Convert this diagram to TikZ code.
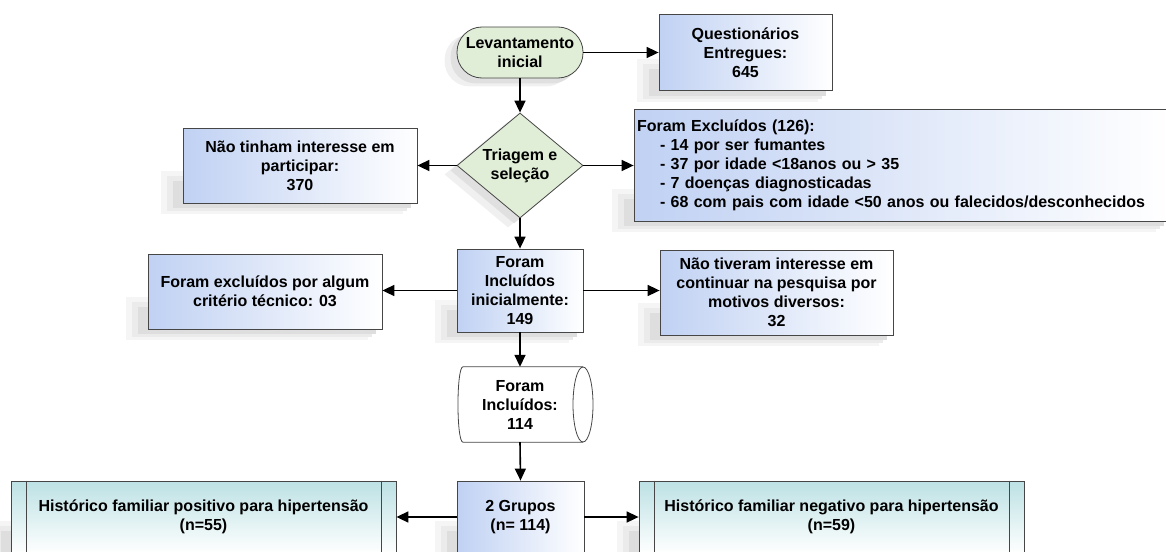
\documentclass[tikz,border=0pt]{standalone}
\usepackage{fontspec}
\setmainfont{Liberation Sans}
\usetikzlibrary{shapes.geometric,arrows.meta,backgrounds}
\definecolor{bluefill}{RGB}{192,209,243}
\definecolor{tealfill}{RGB}{188,225,228}
\definecolor{greenfill}{RGB}{224,238,215}
\definecolor{bordergray}{RGB}{70,70,70}
\newcommand{\boxshadow}[1]{%
 \fill[black!4] ([shift={(-22pt,-11pt)}]#1.south west) rectangle ([shift={(-14pt,32pt)}]#1.south east);
 \fill[black!8] ([shift={(-16pt,-8pt)}]#1.south west) rectangle ([shift={(-10pt,27pt)}]#1.south east);
 \fill[black!13] ([shift={(-10pt,-5pt)}]#1.south west) rectangle ([shift={(-6pt,22pt)}]#1.south east);}
\begin{document}
\begin{tikzpicture}[x=1pt,y=-1pt,
  txt/.style={font=\bfseries\fontsize{16}{19}\selectfont, align=center, text=black},
  bluebox/.style={txt, draw=bordergray, line width=0.8pt, left color=bluefill, right color=white, inner sep=2pt},
  tealbox/.style={txt, draw=bordergray, line width=0.8pt, top color=tealfill, bottom color=white, inner sep=2pt},
  greenshape/.style={txt, draw=bordergray, line width=0.8pt, fill=greenfill},
  arr/.style={-{Triangle[length=12pt,width=11pt]}, line width=1.6pt}
]
\useasboundingbox (0,0) rectangle (1166,551);

\node[greenshape, rounded corners=25pt, minimum width=126pt, minimum height=51pt, inner sep=0pt] (lev) at (520,52.5) {Levantamento\\inicial};
\node[bluebox, minimum width=173pt, minimum height=76pt] (quest) at (745.5,52.5) {Questionários\\Entregues:\\645};
\node[greenshape, diamond, aspect=1.2, inner sep=0pt, minimum width=126pt, minimum height=105pt] (tri) at (520,165.5) {Triagem e\\seleção};
\node[bluebox, minimum width=234pt, minimum height=75pt] (nao1) at (300,165.5) {Não tinham interesse em\\participar:\\370};
\node[bluebox, align=left, text width=530pt, inner xsep=3pt, minimum height=112pt] (excl) at (902,165) {Foram Excluídos (126):\\
\hspace*{23pt}- 14 por ser fumantes\\
\hspace*{23pt}- 37 por idade <18anos ou > 35\\
\hspace*{23pt}- 7 doenças diagnosticadas\\
\hspace*{23pt}- 68 com pais com idade <50 anos ou falecidos/desconhecidos};
\node[bluebox, minimum width=126pt, minimum height=83pt] (inc1) at (520,290.5) {Foram\\Incluídos\\inicialmente:\\149};
\node[bluebox, minimum width=234pt, minimum height=75pt] (crit) at (265,291.5) {Foram excluídos por algum\\critério técnico: 03};
\node[bluebox, minimum width=233pt, minimum height=85pt] (nao2) at (776.5,292.5) {Não tiveram interesse em\\continuar na pesquisa por\\motivos diversos:\\32};

\node[txt, minimum width=110pt, minimum height=75pt, inner sep=0pt] (cyl) at (520,404.5) {Foram\\Incluídos:\\114};
\draw[bordergray, line width=0.8pt] ([xshift=-57pt]cyl.north) -- ([xshift=63pt]cyl.north)
  ([xshift=63pt]cyl.south) -- ([xshift=-57pt]cyl.south)
  .. controls +(-6.7pt,0) and +(-6.7pt,0) .. ([xshift=-57pt]cyl.north);
\draw[bordergray, line width=0.8pt] ([xshift=63pt]cyl.center) ellipse [x radius=10pt, y radius=37.5pt];

\node[bluebox, minimum width=127pt, minimum height=72pt] (grp) at (520.5,517) {2 Grupos\\(n= 114)};
\node[tealbox, minimum width=385pt, minimum height=72pt] (pos) at (203.5,517) {Histórico familiar positivo para hipertensão\\(n=55)};
\node[tealbox, minimum width=385pt, minimum height=72pt] (neg) at (831.5,517) {Histórico familiar negativo para hipertensão\\(n=59)};
\draw[bordergray, line width=0.8pt] ([xshift=16pt]pos.north west) -- ([xshift=16pt]pos.south west)
  ([xshift=-15pt]pos.north east) -- ([xshift=-15pt]pos.south east)
  ([xshift=16pt]neg.north west) -- ([xshift=16pt]neg.south west)
  ([xshift=-15pt]neg.north east) -- ([xshift=-15pt]neg.south east);

\begin{scope}[on background layer]
  \boxshadow{quest}\boxshadow{nao1}\boxshadow{excl}\boxshadow{inc1}
  \boxshadow{crit}\boxshadow{nao2}\boxshadow{grp}\boxshadow{pos}\boxshadow{neg}
  \fill[black!6, rounded corners=25pt] ([shift={(-12pt,-8pt)}]lev.south west) rectangle ([shift={(-12pt,-8pt)}]lev.north east);
  \fill[black!12, rounded corners=25pt] ([shift={(-6pt,-5pt)}]lev.south west) rectangle ([shift={(-6pt,-5pt)}]lev.north east);
  \fill[black!6] ([shift={(-12pt,-9pt)}]tri.north) -- ([shift={(-12pt,-9pt)}]tri.east) -- ([shift={(-12pt,-9pt)}]tri.south) -- ([shift={(-12pt,-9pt)}]tri.west) -- cycle;
  \fill[black!12] ([shift={(-6pt,-5pt)}]tri.north) -- ([shift={(-6pt,-5pt)}]tri.east) -- ([shift={(-6pt,-5pt)}]tri.south) -- ([shift={(-6pt,-5pt)}]tri.west) -- cycle;
\end{scope}

\draw[arr] (lev.east) -- (lev.east -| quest.west);
\draw[arr] (lev.south) -- (tri.north);
\draw[arr] (tri.west) -- (tri.west -| nao1.east);
\draw[arr] (tri.east) -- (tri.east -| excl.west);
\draw[arr] (tri.south) -- (inc1.north);
\draw[arr] (inc1.west) -- (inc1.west -| crit.east);
\draw[arr] (inc1.east) -- (inc1.east -| nao2.west);
\draw[arr] (inc1.south) -- (cyl.north);
\draw[arr] (cyl.south) -- (grp.north);
\draw[arr] (grp.west) -- (grp.west -| pos.east);
\draw[arr] (grp.east) -- (grp.east -| neg.west);
\end{tikzpicture}
\end{document}
